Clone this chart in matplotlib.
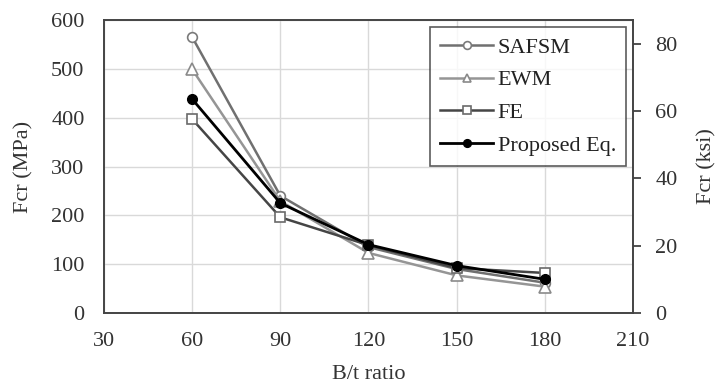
import matplotlib.pyplot as plt

plt.rcParams['font.family'] = ['Liberation Serif', 'DejaVu Serif']

bt_ratio = [60, 90, 120, 150, 180]
safsm = [565, 240, 135, 90, 62]
ewm = [499, 229, 123, 77, 54]
fe = [397, 196, 139, 92, 82]
proposed = [438, 225, 140, 97, 69]

MPA_PER_KSI = 6.894757
FS = 16

fig = plt.figure(figsize=(7.17, 3.83), dpi=100)
ax = fig.add_axes([104 / 717, 70 / 383, 529 / 717, 293 / 383])

ax.plot(bt_ratio, safsm, color='#707070', lw=1.8, marker='o', ms=7,
        mfc='white', mec='#7a7a7a', mew=1.2, label='SAFSM')
ax.plot(bt_ratio, ewm, color='#959595', lw=1.8, marker='^', ms=8,
        mfc='white', mec='#8a8a8a', mew=1.2, label='EWM')
ax.plot(bt_ratio, fe, color='#454545', lw=1.8, marker='s', ms=7,
        mfc='white', mec='#6a6a6a', mew=1.2, label='FE')
ax.plot(bt_ratio, proposed, color='black', lw=2.0, marker='o', ms=7,
        mfc='black', mec='black', label='Proposed Eq.')

ax.set_xlim(30, 210)
ax.set_ylim(0, 600)
ax.set_xticks(range(30, 211, 30))
ax.set_yticks(range(0, 601, 100))
ax.grid(True, color='#d9d9d9', lw=1)
ax.set_axisbelow(True)
ax.tick_params(length=0, labelsize=FS, colors='#333333')
ax.tick_params(axis='x', pad=14)
ax.tick_params(axis='y', pad=14)
ax.set_xlabel('B/t ratio', fontsize=FS, color='#333333', labelpad=10)
ax.set_ylabel('Fcr (MPa)', fontsize=FS, color='#333333', labelpad=13)
for s in ax.spines.values():
    s.set_color('#444444')
    s.set_linewidth(1.2)

ax2 = ax.twinx()
ax2.set_ylim(0, 600 / MPA_PER_KSI)
ax2.set_yticks(range(0, 81, 20))
ax2.tick_params(length=6, width=1.2, labelsize=FS, pad=10, colors='#333333')
ax2.set_ylabel('Fcr (ksi)', fontsize=FS, color='#333333', labelpad=14)
for s in ax2.spines.values():
    s.set_color('#444444')
    s.set_linewidth(1.2)

leg = ax.legend(loc='upper right', bbox_to_anchor=(0.987, 0.976), fontsize=FS,
                frameon=True, fancybox=False, edgecolor='#333333',
                handlelength=2.4, handletextpad=0.2, borderpad=0.45,
                borderaxespad=0, labelspacing=0.55, markerscale=0.8)
leg.get_frame().set_linewidth(1.2)
for t in leg.get_texts():
    t.set_color('#222222')

fig.savefig('out.png', dpi=100)
